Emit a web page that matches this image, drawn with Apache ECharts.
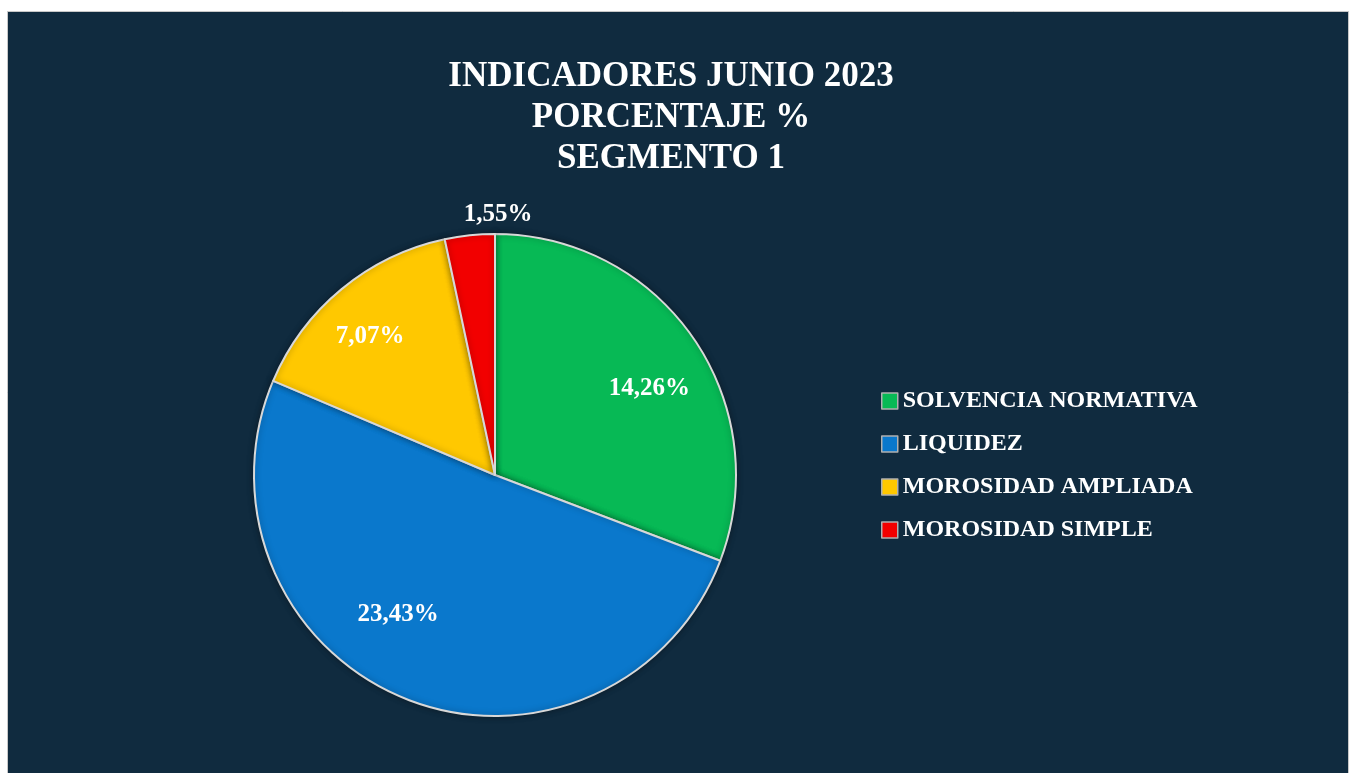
<!DOCTYPE html>
<html>
<head>
<meta charset="utf-8">
<script src="https://cdn.jsdelivr.net/npm/echarts@6/dist/echarts.min.js"></script>
<style>
  html, body { margin: 0; padding: 0; background: #ffffff; }
  #main { width: 1357px; height: 773px; }
</style>
</head>
<body>
<div id="main"></div>
<script>
// datos del grafico
var categories = ['SOLVENCIA NORMATIVA', 'LIQUIDEZ', 'MOROSIDAD AMPLIADA', 'MOROSIDAD SIMPLE'];
var values = [14.26, 23.43, 7.07, 1.55];
var labels = ['14,26%', '23,43%', '7,07%', '1,55%'];
var colors = ['#07B955', '#0A78CC', '#FFC800', '#F20000'];

// ajuste fino de la posicion de cada etiqueta (como en Excel)
var labelOffsets = [[7, 15], [-30, -26], [-11, 0], [22, -83]];

var fontFam = '"Liberation Serif", "DejaVu Serif", serif';
var cx = 495, cy = 475, R = 241;

let myChart = echarts.init(document.getElementById('main'));

let data = categories.map(function (name, i) {
    return {
        name: name,
        value: values[i],
        itemStyle: { color: colors[i] }
    };
});

// serie transparente solo para las etiquetas
let labelData = categories.map(function (name, i) {
    return {
        name: name,
        value: values[i],
        label: { formatter: labels[i], offset: labelOffsets[i] }
    };
});

myChart.setOption({
    backgroundColor: '#ffffff',
    animation: false,
    graphic: [{
        type: 'rect',
        silent: true,
        z: -10,
        shape: { x: 7.5, y: 11.5, width: 1341, height: 770 },
        style: { fill: '#102B3F', stroke: '#c8c8c8', lineWidth: 1 }
    }],
    title: {
        text: 'INDICADORES JUNIO 2023\nPORCENTAJE %\nSEGMENTO 1',
        left: 666,
        top: 51,
        textAlign: 'center',
        textStyle: {
            color: '#ffffff',
            fontFamily: fontFam,
            fontWeight: 'bold',
            fontSize: 35,
            lineHeight: 41
        }
    },
    legend: {
        orient: 'vertical',
        left: 876,
        top: 384,
        itemWidth: 16,
        itemHeight: 16,
        itemGap: 19,
        icon: 'rect',
        data: categories,
        itemStyle: { borderColor: '#b0b0b0', borderWidth: 1.5 },
        textStyle: {
            color: '#ffffff',
            fontFamily: fontFam,
            fontWeight: 'bold',
            fontSize: 24,
            padding: [0, 0, 0, 0]
        }
    },
    series: [{
        type: 'pie',
        center: [cx, cy],
        radius: [0, R],
        startAngle: 90,
        clockwise: true,
        data: data,
        itemStyle: {
            borderColor: '#d8d8d8',
            borderWidth: 2,
            shadowColor: 'rgba(0,0,0,0.35)',
            shadowBlur: 6
        },
        label: { show: false },
        labelLine: { show: false },
        emphasis: { disabled: true }
    }, {
        type: 'pie',
        center: [cx, cy],
        radius: [R * 0.46, R],
        startAngle: 90,
        clockwise: true,
        silent: true,
        data: labelData,
        itemStyle: { color: 'rgba(0,0,0,0)', borderWidth: 0 },
        label: {
            show: true,
            position: 'inside',
            color: '#ffffff',
            fontFamily: fontFam,
            fontWeight: 'bold',
            fontSize: 25
        },
        labelLine: { show: false },
        emphasis: { disabled: true }
    }]
});
</script>
</body>
</html>
